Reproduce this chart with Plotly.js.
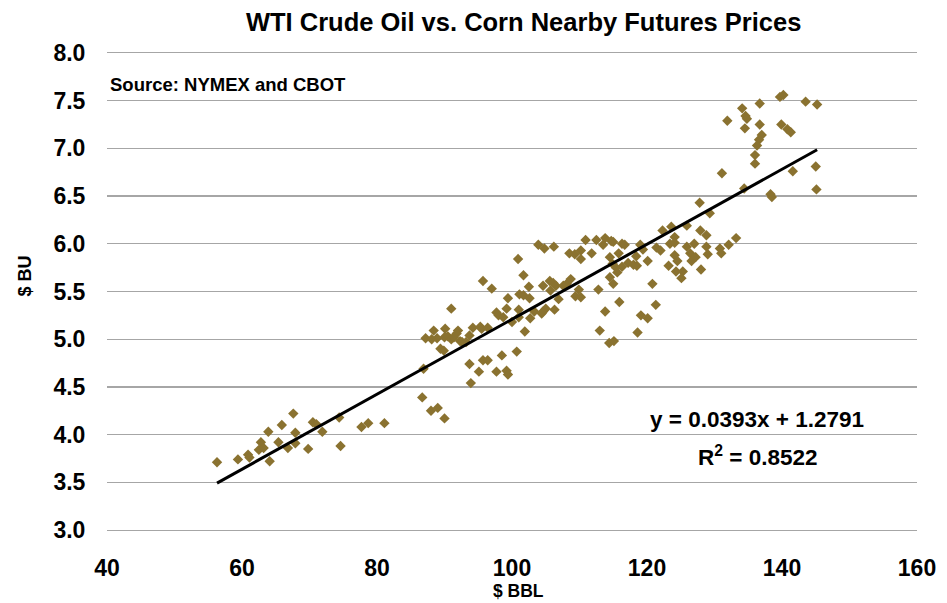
<!DOCTYPE html>
<html><head><meta charset="utf-8">
<script src="https://cdn.plot.ly/plotly-3.0.1.min.js"></script>
<style>body{margin:0;background:#fff}#c{width:947px;height:603px}</style>
</head><body><div id="c"></div>
<script>
const wti = [
56.3,59.4,60.9,61.1,62.5,62.8,63.2,63.9,64.1,65.4,65.9,66.8,67.6,67.9,67.9,69.8,70.5,71.0,71.9,74.4,74.6,77.7,78.7,81.1,
103.9,104.8,106.2,100.9,101.7,95.7,97.0,102.5,104.6,105.6,106.1,106.5,105.7,101.1,101.7,102.6,99.4,91.0,99.2,97.7,98.0,98.7,101.0,101.0,100.0,102.7,104.6,105.0,106.3,103.3,104.4,
88.4,87.2,88.1,88.9,90.1,90.0,90.5,91.0,91.4,92.0,91.8,92.3,92.6,93.2,93.7,94.2,95.3,95.5,96.4,89.4,89.9,93.7,95.7,96.4,95.1,97.7,98.5,99.2,99.4,100.7,101.9,93.9,86.9,86.7,88.0,89.0,90.0,
110.9,112.5,113.8,113.5,114.7,115.0,116.3,116.7,108.5,109.3,110.2,110.2,111.8,114.5,115.8,114.9,115.4,116.3,115.6,114.5,115.0,117.2,118.0,118.5,118.4,119.0,119.4,120.1,120.8,121.4,122.0,122.3,123.6,124.1,123.4,124.1,124.1,124.5,123.2,124.3,125.3,125.1,125.9,126.4,127.0,126.6,127.2,128.0,127.9,128.8,128.8,129.0,130.8,131.0,132.1,133.2,
106.9,107.6,108.1,108.7,109.4,109.9,110.2,112.8,113.8,115.9,113.0,114.4,115.1,118.6,119.1,120.1,121.3,
139.7,140.2,143.5,145.2,136.7,134.1,134.6,134.8,131.9,134.5,136.7,139.9,140.8,141.3,137.0,136.6,136.3,136.0,136.0,145.0,141.6,131.1,134.4,145.1,138.3,138.5,127.8,129.3,125.9
];
const corn = [
3.71,3.74,3.79,3.76,3.84,3.92,3.86,4.03,3.72,3.92,4.10,3.86,4.22,4.02,3.91,3.85,4.13,4.11,4.03,4.18,3.88,4.08,4.12,4.12,
5.99,5.95,5.97,5.84,5.67,5.61,5.53,5.55,5.56,5.61,5.59,5.56,5.51,5.47,5.46,5.43,5.43,5.32,5.32,5.28,5.25,5.23,5.31,5.23,5.18,5.22,5.29,5.32,5.31,5.29,5.27,
5.09,5.01,5.00,5.01,5.11,5.02,5.03,5.00,5.02,5.09,5.06,4.98,4.97,4.97,5.04,5.12,5.13,5.11,5.12,4.90,4.88,4.74,4.78,4.78,4.66,4.66,4.83,4.67,4.63,4.87,5.08,4.54,4.69,4.39,4.25,4.28,4.17,
6.04,6.04,6.06,5.99,6.03,6.02,6.00,5.99,5.90,5.89,5.93,5.84,5.90,5.86,5.90,5.79,5.75,5.76,5.70,5.65,5.58,5.80,5.78,5.77,5.87,5.99,5.94,5.82,5.58,5.96,5.93,6.14,6.18,6.07,6.00,6.01,5.88,5.82,5.77,5.71,5.71,5.64,5.97,5.90,6.00,5.82,5.86,5.73,6.14,6.09,5.97,5.89,5.95,5.90,5.99,6.06,
5.42,5.56,5.58,5.63,5.45,5.52,5.44,5.52,5.29,5.39,5.09,4.96,4.98,5.07,5.25,5.22,5.36,
7.54,7.56,7.49,7.46,7.47,7.42,7.34,7.31,7.29,7.21,7.25,7.25,7.20,7.17,7.14,7.09,7.03,6.93,6.84,6.81,6.76,6.74,6.58,6.57,6.52,6.49,6.43,6.32,6.19
];
const slope = 0.0393, intercept = 1.2791, r2 = 0.8522;
const yTicks = [3.0,3.5,4.0,4.5,5.0,5.5,6.0,6.5,7.0,7.5,8.0];
const xTicks = [40,60,80,100,120,140,160];

const xmin = Math.min(...wti), xmax = Math.max(...wti);
const F = 'Arial, "Liberation Sans", sans-serif';
const G = '#a6a6a6';
const data = [
  {x: wti, y: corn, type:'scatter', mode:'markers',
   marker:{symbol:'diamond', size:8, color:'#8a7230'}, hoverinfo:'x+y'},
  {x:[xmin,xmax], y:[slope*xmin+intercept, slope*xmax+intercept], type:'scatter', mode:'lines',
   line:{color:'#000', width:3}}
];
const layout = {
  width:947, height:603, showlegend:false,
  paper_bgcolor:'#fff', plot_bgcolor:'#fff',
  margin:{l:107, r:30, t:53, b:73},
  font:{family:F, color:'#000'},
  title:{text:'<b>WTI Crude Oil vs. Corn Nearby Futures Prices</b>', font:{size:25.5, family:F}, x:0.553, xanchor:'center', y:0.963, yanchor:'middle'},
  xaxis:{range:[40,160], tickvals:xTicks, ticktext:xTicks.map(String), showgrid:false, zeroline:false,
    showline:true, mirror:true, linecolor:G, linewidth:1.3,
    ticks:'outside', ticklen:17, tickcolor:'rgba(0,0,0,0)', tickfont:{size:23, family:F, weight:'bold'}},
  yaxis:{range:[3.0,8.0], tickvals:yTicks, ticktext:yTicks.map(v=>v.toFixed(1)), showgrid:true, gridcolor:G, gridwidth:1.3,
    zeroline:false, showline:false, ticks:'outside', ticklen:16, tickcolor:'rgba(0,0,0,0)', tickfont:{size:23, family:F, weight:'bold'}},
  annotations:[
    {xref:'paper', yref:'paper', x:0.5086, y:-0.128, xanchor:'center', yanchor:'middle', showarrow:false,
     text:'<b>$ BBL</b>', font:{size:17.5, family:F}},
    {xref:'paper', yref:'paper', x:-0.1012, y:0.5315, xanchor:'center', yanchor:'middle', showarrow:false, textangle:-90,
     text:'<b>$ BU</b>', font:{size:18, family:F}},
    {xref:'paper', yref:'paper', x:0.0015, y:0.935, xanchor:'left', yanchor:'middle', showarrow:false,
     text:'<b>Source: NYMEX and CBOT</b>', font:{size:18.5, family:F}},
    {xref:'x', yref:'y', x:136.25, y:4.16, showarrow:false, xanchor:'center', yanchor:'middle',
     text:'<b>y = '+slope.toFixed(4)+'x + '+intercept.toFixed(4)+'</b>', font:{size:22.5, family:F}},
    {xref:'x', yref:'y', x:136.4, y:3.78, showarrow:false, xanchor:'center', yanchor:'middle',
     text:'<b>R<sup>2</sup> = '+r2.toFixed(4)+'</b>', font:{size:22.5, family:F}}
  ]
};
Plotly.newPlot('c', data, layout, {displayModeBar:false, staticPlot:true});
</script>
</body></html>
